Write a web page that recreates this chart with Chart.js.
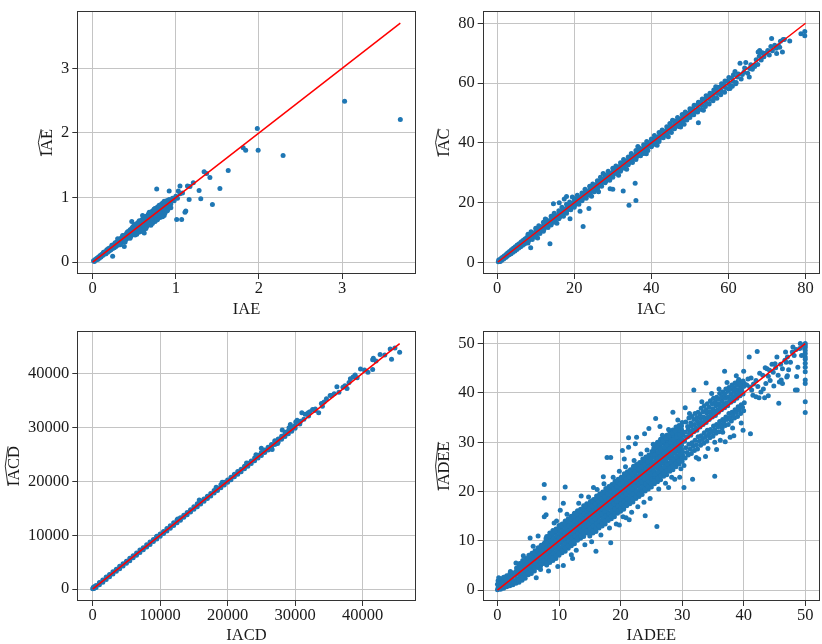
<!DOCTYPE html>
<html>
<head>
<meta charset="utf-8">
<script src="https://cdn.jsdelivr.net/npm/chart.js@4.4.0/dist/chart.umd.min.js"></script>
<style>
  html, body { margin: 0; padding: 0; background: #fff; overflow: hidden; }
  #fig { position: relative; width: 822px; height: 644px; }
  #fig canvas { position: absolute; }
</style>
</head>
<body>
<div id="fig">
  <canvas id="c-iae" width="420" height="320" style="left:0px;top:0px"></canvas>
  <canvas id="c-iac" width="411" height="320" style="left:411px;top:0px"></canvas>
  <canvas id="c-iacd" width="420" height="324" style="left:0px;top:320px"></canvas>
  <canvas id="c-iadee" width="411" height="324" style="left:411px;top:320px"></canvas>
</div>
<script>
// ---- data (true value, estimated value) ----
const iaeTicks = [0, 1, 2, 3];
const iacTicks = [0, 20, 40, 60, 80];
const iacdTicks = [0, 10000, 20000, 30000, 40000];
const iadeeTicks = [0, 10, 20, 30, 40, 50];

const axisLabels = ['IAE', 'IAC', 'IACD', 'IADEE'];

const iaePoints = [
  [0.01,0.02],[0.02,0.01],[0.03,0.04],[0.04,0.03],[0.05,0.06],[0.06,0.04],[0.07,0.08],[0.08,0.06],
  [0.09,0.10],[0.10,0.08],[0.11,0.12],[0.12,0.10],[0.13,0.15],[0.14,0.12],[0.15,0.16],[0.16,0.13],
  [0.17,0.19],[0.18,0.15],[0.19,0.21],[0.20,0.17],[0.21,0.22],[0.22,0.19],[0.23,0.26],[0.24,0.21],
  [0.25,0.27],[0.26,0.22],[0.27,0.30],[0.28,0.24],[0.29,0.31],[0.30,0.26],[0.31,0.34],[0.32,0.28],
  [0.33,0.36],[0.34,0.30],[0.35,0.38],[0.36,0.31],[0.37,0.40],[0.38,0.33],[0.39,0.42],[0.40,0.35],
  [0.41,0.45],[0.42,0.37],[0.43,0.47],[0.44,0.38],[0.45,0.50],[0.46,0.40],[0.47,0.52],[0.48,0.43],
  [0.49,0.55],[0.50,0.44],[0.51,0.56],[0.52,0.46],[0.53,0.58],[0.54,0.47],[0.55,0.60],[0.56,0.49],
  [0.57,0.63],[0.58,0.50],[0.59,0.65],[0.60,0.53],[0.61,0.67],[0.62,0.54],[0.63,0.69],[0.64,0.56],
  [0.65,0.71],[0.66,0.57],[0.67,0.74],[0.68,0.59],[0.69,0.76],[0.70,0.61],[0.71,0.78],[0.72,0.63],
  [0.73,0.80],[0.74,0.64],[0.75,0.83],[0.76,0.66],[0.77,0.84],[0.78,0.69],[0.79,0.86],[0.80,0.70],
  [0.81,0.88],[0.82,0.73],[0.83,0.90],[0.84,0.76],[0.85,0.92],[0.86,0.78],[0.87,0.93],[0.88,0.82],
  [0.89,0.95],[0.90,0.84],[0.92,0.97],[0.94,0.90],[0.96,0.99],[0.98,0.95],[1.00,1.02],[1.02,0.99],
  [1.05,1.06],[1.08,1.07],
  [0.30,0.30],[0.35,0.34],[0.40,0.40],[0.45,0.44],[0.50,0.50],[0.55,0.54],[0.60,0.60],[0.65,0.64],
  [0.70,0.70],[0.75,0.74],[0.80,0.80],[0.85,0.84],[0.47,0.47],[0.52,0.52],[0.57,0.56],[0.62,0.62],
  [0.67,0.67],[0.72,0.72],[0.77,0.77],[0.82,0.82],[0.42,0.42],[0.37,0.36],[0.58,0.58],[0.63,0.60],
  [0.68,0.66],[0.73,0.70],[0.78,0.75],[0.83,0.80],[0.53,0.50],[0.48,0.46],[0.44,0.41],[0.66,0.62],
  [0.71,0.66],[0.76,0.71],[0.81,0.76],[0.86,0.82],[0.90,0.88],[0.93,0.92],[0.60,0.57],[0.64,0.67],
  [0.69,0.72],[0.74,0.78],[0.79,0.82],[0.84,0.87],[0.88,0.90],[0.56,0.58],[0.51,0.53],[0.46,0.48],
  [0.41,0.43],[0.36,0.37],[0.72,0.60],[0.78,0.66],[0.70,0.57],[0.64,0.52],[0.82,0.70],[0.86,0.72],
  [0.90,0.80],[0.55,0.46],[0.60,0.50],
  [0.30,0.36],[0.33,0.27],[0.36,0.41],[0.39,0.31],[0.42,0.47],[0.45,0.37],[0.48,0.54],[0.51,0.42],
  [0.54,0.61],[0.57,0.47],[0.60,0.66],[0.63,0.52],[0.66,0.72],[0.69,0.58],[0.72,0.79],[0.75,0.63],
  [0.78,0.85],[0.81,0.69],[0.84,0.91],[0.87,0.76],[0.90,0.95],[0.93,0.84],[0.50,0.58],[0.56,0.64],
  [0.62,0.70],[0.68,0.77],[0.74,0.82],[0.80,0.88],[0.86,0.94],[0.53,0.43],[0.59,0.49],[0.65,0.55],
  [0.71,0.60],[0.77,0.65],[0.83,0.72],[0.89,0.79],
  [3.03,2.49],[3.70,2.21],[1.98,2.07],[1.99,1.73],[1.81,1.77],[1.84,1.73],[2.29,1.65],[1.63,1.42],
  [1.34,1.40],[1.37,1.37],[1.41,1.31],[1.53,1.14],[1.28,1.11],[1.30,0.98],[1.16,0.97],[1.44,0.89],
  [1.12,0.79],[1.01,0.66],[1.07,0.66],[0.94,0.84],[0.77,1.13],[0.92,1.10],[1.05,1.18],[1.14,1.18],
  [1.17,1.17],[1.21,1.23],[1.03,1.10],[0.84,0.70],[0.62,0.45],[0.38,0.24],[0.24,0.09],[0.47,0.63],
  [0.60,0.72],[1.11,0.77]
];

const iacPoints = [
  [0.3,0.3],[0.4,0.9],[0.8,0.4],[0.9,1.3],[1.2,0.8],[1.3,1.7],[1.7,1.2],[1.8,2.2],[2.2,1.7],[2.3,2.7],
  [2.6,2.1],[2.7,3.2],[3.1,2.6],[3.2,3.7],[3.6,3.0],[3.7,4.3],[4.1,3.5],[4.2,4.8],[4.6,3.9],[4.7,5.3],
  [5.1,4.4],[5.2,5.9],[5.6,4.9],[5.7,6.3],[6.1,5.3],[6.2,6.9],[6.6,5.8],[6.7,7.4],[7.1,6.2],[7.2,7.9],
  [7.6,6.7],[7.7,8.4],[0.6,0.6],[1.5,1.5],[2.5,2.4],[3.4,3.4],[4.4,4.3],[5.4,5.3],[6.4,6.3],[7.4,7.3],
  [8.0,6.6],[8.2,7.4],[7.8,8.0],[8.1,8.7],[8.0,9.5],
  [9.1,7.7],[8.9,8.2],[9.2,9.1],[9.0,9.7],[8.8,10.3],
  [10.0,8.6],[10.2,9.4],[9.8,10.0],[10.1,10.7],[10.0,11.5],
  [11.1,9.7],[10.9,10.2],[11.0,11.1],[11.2,11.7],[10.8,12.3],
  [12.0,10.5],[12.2,11.3],[11.9,12.1],[12.1,12.6],[12.0,13.5],
  [13.2,11.7],[12.9,12.3],[13.0,12.9],[13.1,13.8],[12.8,14.3],
  [14.0,12.6],[14.1,13.2],[13.8,14.1],[14.2,14.8],[14.0,15.5],
  [15.1,13.5],[14.9,14.4],[15.2,15.0],[15.0,15.6],[14.8,16.5],
  [16.0,14.7],[16.2,15.2],[15.9,16.0],[16.1,16.8],[16.0,17.3],
  [17.2,15.5],[16.9,16.3],[17.0,17.1],[17.1,17.7],[16.8,18.5],
  [18.0,16.5],[18.1,17.4],[17.8,18.0],[18.2,18.6],[18.0,19.5],
  [19.1,17.7],[18.9,18.2],[19.2,19.0],[19.0,19.8],[18.8,20.3],
  [20.0,18.5],[20.2,19.3],[19.9,20.1],[20.1,20.6],[20.0,21.4],
  [21.2,19.5],[20.9,20.4],[21.0,21.0],[21.1,21.6],[20.8,22.5],
  [22.0,20.7],[22.1,21.2],[21.8,21.9],[22.2,22.8],[22.0,23.3],
  [23.1,21.5],[22.9,22.3],[23.2,23.1],[23.0,23.7],[22.8,24.5],
  [24.0,22.5],[24.2,23.4],[23.9,24.0],[24.1,24.6],[24.0,25.5],
  [25.2,23.7],[24.9,24.2],[25.0,24.9],[25.1,25.8],[24.8,26.3],
  [26.0,24.5],[26.1,25.3],[25.8,26.1],[26.2,26.6],[26.0,27.4],
  [27.1,25.5],[26.9,26.4],[27.2,27.0],[27.0,27.6],[26.8,28.5],
  [28.0,26.7],[28.2,27.2],[27.9,27.9],[28.1,28.8],[28.0,29.3],
  [29.2,27.5],[28.9,28.3],[29.0,29.1],[29.1,29.7],[28.8,30.5],
  [30.0,28.5],[30.1,29.4],[29.8,30.0],[30.2,30.6],[30.0,31.5],
  [31.1,29.7],[30.9,30.2],[31.2,30.9],[31.0,31.8],[30.8,32.3],
  [32.0,30.5],[32.2,31.3],[31.9,32.1],[32.1,32.6],[32.0,33.4],
  [33.2,31.5],[32.9,32.4],[33.0,33.0],[33.1,33.6],[32.8,34.5],
  [34.0,32.7],[34.1,33.2],[33.8,33.9],[34.2,34.8],[34.0,35.3],
  [35.1,33.5],[34.9,34.3],[35.2,35.1],[35.0,35.7],[34.8,36.5],
  [36.0,34.5],[36.2,35.4],[35.9,36.0],[36.1,36.6],[36.0,37.5],
  [37.2,35.7],[36.9,36.2],[37.0,36.9],[37.1,37.8],[36.8,38.3],
  [38.0,36.5],[38.1,37.3],[37.8,38.1],[38.2,38.6],[38.0,39.4],
  [39.1,37.5],[38.9,38.4],[39.2,39.0],[39.0,39.6],[38.8,40.5],
  [40.0,38.7],[40.2,39.2],[39.9,39.9],[40.1,40.8],[40.0,41.3],
  [41.2,39.5],[40.9,40.3],[41.0,41.1],[41.1,41.7],[40.8,42.5],
  [42.0,40.5],[42.1,41.4],[41.8,42.0],[42.2,42.6],[42.0,43.5],
  [43.1,41.7],[42.9,42.2],[43.2,42.9],[43.0,43.8],[42.8,44.3],
  [44.0,42.5],[44.2,43.3],[43.9,44.1],[44.1,44.6],[44.0,45.4],
  [45.2,43.5],[44.9,44.4],[45.0,45.0],[45.1,45.6],[44.8,46.5],
  [46.0,44.7],[46.1,45.2],[45.8,45.9],[46.2,46.8],[46.0,47.3],
  [47.1,45.5],[46.9,46.3],[47.2,47.1],[47.0,47.7],[46.8,48.5],
  [48.0,46.5],[48.2,47.4],[47.9,48.0],[48.1,48.6],[48.0,49.5],
  [49.2,47.7],[48.9,48.2],[49.0,48.9],[49.1,49.8],[48.8,50.3],
  [50.0,48.5],[50.1,49.3],[49.8,50.1],[50.2,50.6],[50.0,51.4],
  [51.0,49.4],[51.2,50.6],[50.8,51.5],[51.1,52.6],[52.0,50.3],[52.1,51.5],[51.9,52.6],[52.2,53.6],
  [53.0,51.2],[53.1,52.6],[52.9,53.5],[53.2,54.7],[54.0,52.2],[54.1,53.5],[53.9,54.6],[54.2,55.8],
  [55.0,53.0],[55.1,54.5],[54.9,55.6],[55.2,56.6],[56.0,54.1],[56.1,55.4],[55.9,56.5],[56.2,57.7],
  [57.0,54.9],[57.1,56.5],[56.9,57.6],[57.2,58.6],[58.0,56.1],[58.1,57.4],[57.9,58.6],[58.2,59.8],
  [59.0,56.9],[59.2,58.5],[58.8,59.4],[59.1,60.7],[60.0,58.1],[60.2,59.6],[59.8,60.6],[60.1,61.9],
  [61.0,58.9],[61.2,60.6],[60.8,61.7],[61.3,62.8],[62.0,60.2],[62.3,62.0],[62.6,63.0],
  [63.3,61.4],[63.6,62.9],[64.0,63.6],[64.2,65.0],[65.0,63.3],[65.5,64.9],[65.8,66.1],[66.2,64.6],
  [66.8,66.0],[67.2,67.8],[67.6,66.2],[68.0,69.0],[68.5,67.7],[68.8,70.1],[69.2,68.8],[69.6,70.0],
  [70.2,70.9],[70.6,69.4],[71.0,72.2],[71.4,70.8],[72.0,72.6],[72.4,71.6],[73.0,72.5],[73.5,74.0],
  [74.2,74.6],
  [78.8,76.5],[79.8,77.2],[79.8,75.8],[74.5,74.6],[74.0,70.4],[72.5,69.9],[71.2,74.9],[68.1,70.9],
  [67.7,70.4],[66.8,65.5],[65.4,62.0],[64.5,66.9],[63.0,66.6],[61.7,63.9],[60.4,58.2],[61.9,59.8],
  [73.3,72.0],[75.9,74.1],[52.2,46.7],[13.7,6.3],[22.3,12.1],[34.2,19.2],[36.0,20.8],[35.8,26.5],
  [32.7,23.9],[29.3,24.7],[30.0,24.5],[23.8,18.1],[21.5,17.2],[18.9,14.7],[14.6,19.7],[16.1,20.0],
  [18.0,22.1],[17.4,21.3],[8.7,5.0],
  [12.5,14.6],[15.5,13.2],[19.5,21.9],[24.5,22.2],[27.5,29.8],[31.5,29.2],[36.5,38.8],[41.5,39.2],
  [45.5,47.6],[48.5,46.2],[10.5,8.2],[26.3,23.7],[33.6,31.2],[38.7,36.4],[44.4,42.1],[47.6,45.3],
  [53.5,50.9],[56.7,58.8]
];

const iacdPoints = [
  [0,50],[100,350],[200,120],[300,500],
  [500,280],[500,690],[1000,820],[1000,1230],[1500,1290],[1500,1710],[2000,1780],[2000,2240],
  [2500,2310],[2500,2690],[3000,2790],[3000,3220],[3500,3320],[3500,3680],[4000,3780],[4000,4230],
  [4500,4290],[4500,4710],[5000,4820],[5000,5190],[5500,5280],[5500,5730],[6000,5810],[6000,6190],
  [6500,6290],[6500,6720],[7000,6780],[7000,7240],[7500,7310],[7500,7690],[8000,7790],[8000,8220],
  [8500,8280],[8500,8730],[9000,8810],[9000,9190],[9500,9290],[9500,9720],[10000,9780],[10000,10240],
  [10500,10310],[10500,10690],[11000,10790],[11000,11220],[11500,11280],[11500,11730],[12000,11810],[12000,12290],
  [12500,12290],[12500,12820],[13000,12780],[13000,13240],[13500,13310],[13500,13690],[14000,13790],[14000,14220],
  [14500,14280],[14500,14730],[15000,14810],[15000,15290],[15500,15290],[15500,15820],[16000,15780],[16000,16340],
  [16500,16310],[16500,16690],[17000,16790],[17000,17220],[17500,17280],[17500,17730],[18000,17810],[18000,18290],
  [18500,18290],[18500,18720],[19000,18780],[19000,19340],[19500,19310],[19500,19790],[20000,19790],[20000,20220],
  [20500,20280],[20500,20730],[21000,20810],[21000,21290],[21500,21290],[21500,21820],[22000,21780],[22000,22240],
  [22500,22310],[22500,22790],[23000,22790],[23000,23320],[23500,23280],[23500,23730],[24000,23810],[24000,24290],
  [24500,24290],[24500,24820],[25000,24780],[25000,25340],[25500,25310],[25500,25790],[26000,25790],[26000,26320],
  [26500,26280],[26500,26830],[27000,26810],[27000,27290],[27500,27290],[27500,27820],[28000,27780],[28000,28340],
  [28500,28310],[28500,28790],[29000,28790],[29000,29320],[29500,29280],[29500,29830],[30000,29810],[30000,30290],
  [15800,16500],[12600,13000],[26600,25900],[25000,26100],[19200,19800],[22800,23400],[24200,24900],[18300,18900],
  [9500,9800],[27400,27000],
  [30300,31300],[30800,31100],[30100,31000],[31000,32700],[31500,32400],[31950,32700],[32200,32900],[32600,33300],
  [32950,33100],[33500,32700],[34050,33900],[34300,34700],[34650,35300],[35200,35900],[35400,35900],[36200,37500],
  [36500,36500],[37100,37400],[37700,37200],[38000,38300],[38200,39000],[38600,39300],[38900,39700],[39700,40800],
  [40800,40200],[41500,40700],[41500,42500],[41600,42800],[42600,43500],[44100,44500],[44300,42600],[44800,44700],
  [45500,43900],[29100,29900],[29600,30000],[29300,30500],[28600,29100],[28100,29500],[26500,26000],[27000,27500],
  [30700,30600],[31300,31500],[32000,32100],[33000,33400],[33900,34400],[35800,36200],[37400,37700],[39200,39200],
  [40300,40600],[42000,42300],[43300,43400]
];

const iadeePoints = [
  // x 0 - 3
  [0.0,0.1],[0.1,0.5],[0.0,1.2],[0.1,1.9],[0.2,2.5],[0.5,0.2],[0.6,0.9],[0.4,1.6],[0.6,2.3],
  [1.0,0.4],[1.1,1.1],[0.9,1.8],[1.0,2.6],[1.5,0.7],[1.6,1.4],[1.4,2.1],[1.5,2.9],
  [2.0,0.9],[2.1,1.7],[1.9,2.5],[2.0,3.3],[2.1,3.8],[2.5,1.1],[2.6,1.9],[2.4,2.7],[2.5,3.5],
  [3.0,1.4],[3.1,2.2],[2.9,3.0],[3.0,3.8],[3.1,4.5],
  // x 3.5 - 7.5
  [3.5,1.6],[3.6,2.5],[3.4,3.5],[3.5,4.6],[3.6,5.4],[4.0,2.0],[4.1,3.1],[3.9,4.0],[4.0,4.9],[4.1,6.0],
  [4.5,2.4],[4.6,3.5],[4.4,4.6],[4.5,5.5],[4.6,6.4],[5.0,3.1],[5.1,4.0],[4.9,4.9],[5.0,6.0],[5.1,7.1],
  [5.5,3.4],[5.6,4.5],[5.4,5.6],[5.5,6.4],[5.6,7.5],[6.0,3.9],[6.1,5.0],[5.9,6.0],[6.0,7.1],[6.1,8.0],
  [6.5,4.6],[6.6,5.4],[6.4,6.5],[6.5,7.6],[6.6,8.6],[7.0,4.9],[7.1,6.1],[6.9,7.0],[7.0,8.0],[7.1,9.1],
  [7.0,4.2],[7.5,5.4],[7.6,6.5],[7.4,7.4],[7.5,8.6],[7.6,9.5],
  [3.5,2.0],[3.6,3.0],[3.4,4.0],[3.5,5.0],[4.0,2.5],[4.1,3.5],[3.9,4.5],[4.0,5.5],
  [4.5,3.0],[4.6,4.0],[4.4,5.0],[4.5,6.0],[5.0,3.5],[5.1,4.5],[4.9,5.5],[5.0,6.5],
  [5.5,4.0],[5.6,5.0],[5.4,6.0],[5.5,7.0],[6.0,4.5],[6.1,5.5],[5.9,6.5],[6.0,7.5],
  [6.5,5.0],[6.6,6.0],[6.4,7.0],[6.5,8.0],[7.0,5.5],[7.1,6.5],[6.9,7.5],[7.0,8.5],
  [7.5,6.0],[7.6,7.0],[7.4,8.0],[7.5,9.0],
  // x 8 - 14.5
  [8.0,5.1],[8.1,6.0],[7.9,7.1],[8.0,8.0],[8.1,9.0],[7.9,10.1],[8.0,10.9],
  [8.5,5.6],[8.6,6.4],[8.4,7.5],[8.5,8.6],[8.6,9.4],[8.4,10.5],[8.5,11.6],
  [9.0,6.0],[9.1,7.1],[8.9,8.0],[9.0,9.0],[9.1,10.1],[8.9,11.0],[9.0,12.1],
  [9.5,6.4],[9.6,7.5],[9.4,8.6],[9.5,9.4],[9.6,10.5],[9.4,11.6],[9.5,12.4],
  [10.0,7.1],[10.1,8.0],[9.9,8.9],[10.0,10.1],[10.1,11.0],[9.9,12.0],[10.0,13.1],
  [10.5,7.6],[10.6,8.5],[10.4,9.6],[10.5,10.4],[10.6,11.5],[10.4,12.6],[10.5,13.4],
  [11.0,7.9],[11.1,9.0],[10.9,10.1],[11.0,11.0],[11.1,11.9],[10.9,13.1],[11.0,14.0],
  [11.5,8.5],[11.6,9.4],[11.4,10.5],[11.5,11.6],[11.6,12.5],[11.4,13.4],[11.5,14.5],
  [12.0,9.0],[12.1,10.1],[11.9,11.0],[12.0,11.9],[12.1,13.0],[11.9,14.1],[12.0,15.0],
  [12.5,9.4],[12.6,10.5],[12.4,11.6],[12.5,12.5],[12.6,13.4],[12.4,14.5],[12.5,15.6],
  [13.0,10.1],[13.1,11.0],[12.9,11.9],[13.0,13.1],[13.1,14.0],[12.9,15.0],[13.0,16.1],
  [13.5,10.5],[13.6,11.6],[13.4,12.5],[13.5,13.4],[13.6,14.6],[13.4,15.5],[13.5,16.4],
  [14.0,10.9],[14.1,12.0],[13.9,13.1],[14.0,14.0],[14.1,14.9],[13.9,16.0],[14.0,17.1],
  [14.5,11.6],[14.6,12.5],[14.4,13.4],[14.5,14.6],[14.6,15.5],[14.4,16.4],[14.5,17.5],
  [8.0,5.5],[8.1,6.5],[7.9,7.5],[8.0,8.5],[8.1,9.5],[7.9,10.5],
  [8.5,6.0],[8.6,7.0],[8.4,8.0],[8.5,9.0],[8.6,10.0],[8.4,11.0],
  [9.0,6.5],[9.1,7.5],[8.9,8.5],[9.0,9.5],[9.1,10.5],[8.9,11.5],
  [9.5,7.0],[9.6,8.0],[9.4,9.0],[9.5,10.0],[9.6,11.0],[9.4,12.0],
  [10.0,7.5],[10.1,8.5],[9.9,9.5],[10.0,10.5],[10.1,11.5],[9.9,12.5],
  [10.5,8.0],[10.6,9.0],[10.4,10.0],[10.5,11.0],[10.6,12.0],[10.4,13.0],
  [11.0,8.5],[11.1,9.5],[10.9,10.5],[11.0,11.5],[11.1,12.5],[10.9,13.5],
  [11.5,9.0],[11.6,10.0],[11.4,11.0],[11.5,12.0],[11.6,13.0],[11.4,14.0],
  [12.0,9.5],[12.1,10.5],[11.9,11.5],[12.0,12.5],[12.1,13.5],[11.9,14.5],
  [12.5,10.0],[12.6,11.0],[12.4,12.0],[12.5,13.0],[12.6,14.0],[12.4,15.0],
  [13.0,10.5],[13.1,11.5],[12.9,12.5],[13.0,13.5],[13.1,14.5],[12.9,15.5],
  [13.5,11.0],[13.6,12.0],[13.4,13.0],[13.5,14.0],[13.6,15.0],[13.4,16.0],
  [14.0,11.5],[14.1,12.5],[13.9,13.5],[14.0,14.5],[14.1,15.5],[13.9,16.5],
  [14.5,12.0],[14.6,13.0],[14.4,14.0],[14.5,15.0],[14.6,16.0],[14.4,17.0],
  // x 15 - 25
  [15.0,11.0],[15.1,12.1],[14.9,13.0],[15.0,13.9],[15.1,15.1],[14.9,16.0],[15.0,16.9],[15.1,18.0],
  [15.5,11.6],[15.6,12.4],[15.4,13.5],[15.5,14.6],[15.6,15.4],[15.4,16.5],[15.5,17.6],[15.6,18.4],
  [16.0,11.9],[16.1,13.1],[15.9,14.0],[16.0,14.9],[16.1,16.1],[15.9,17.0],[16.0,17.9],[16.1,19.1],
  [16.5,12.6],[16.6,13.5],[16.4,14.4],[16.5,15.6],[16.6,16.5],[16.4,17.4],[16.5,18.6],[16.6,19.5],
  [17.0,13.0],[17.1,13.9],[16.9,15.1],[17.0,16.0],[17.1,16.9],[16.9,18.1],[17.0,19.0],[17.1,19.9],
  [17.5,13.4],[17.6,14.6],[17.4,15.5],[17.5,16.4],[17.6,17.6],[17.4,18.5],[17.5,19.4],[17.6,20.6],
  [18.0,14.1],[18.1,15.0],[17.9,15.9],[18.0,17.1],[18.1,18.0],[17.9,18.9],[18.0,20.1],[18.1,21.0],
  [18.5,14.5],[18.6,15.4],[18.4,16.6],[18.5,17.5],[18.6,18.4],[18.4,19.6],[18.5,20.5],[18.6,21.4],
  [19.0,14.9],[19.1,16.1],[18.9,17.0],[19.0,17.9],[19.1,19.1],[18.9,20.0],[19.0,20.9],[19.1,22.1],
  [19.5,15.6],[19.6,16.5],[19.4,17.4],[19.5,18.6],[19.6,19.5],[19.4,20.4],[19.5,21.6],[19.6,22.5],
  [20.0,16.0],[20.1,16.9],[19.9,18.1],[20.0,19.0],[20.1,19.9],[19.9,21.1],[20.0,22.0],[20.1,22.9],
  [20.5,16.4],[20.6,17.6],[20.4,18.5],[20.5,19.4],[20.6,20.6],[20.4,21.5],[20.5,22.4],[20.6,23.6],
  [21.0,17.1],[21.1,18.0],[20.9,18.9],[21.0,20.1],[21.1,21.0],[20.9,21.9],[21.0,23.1],[21.1,24.0],
  [21.5,17.5],[21.6,18.4],[21.4,19.6],[21.5,20.5],[21.6,21.4],[21.4,22.6],[21.5,23.5],[21.6,24.4],
  [22.0,17.9],[22.1,19.1],[21.9,20.0],[22.0,20.9],[22.1,22.1],[21.9,23.0],[22.0,23.9],[22.1,25.1],
  [22.5,18.6],[22.6,19.5],[22.4,20.4],[22.5,21.6],[22.6,22.5],[22.4,23.4],[22.5,24.6],[22.6,25.5],
  [23.0,19.0],[23.1,19.9],[22.9,21.1],[23.0,22.0],[23.1,22.9],[22.9,24.1],[23.0,25.0],[23.1,25.9],
  [23.5,19.4],[23.6,20.6],[23.4,21.5],[23.5,22.4],[23.6,23.6],[23.4,24.5],[23.5,25.4],[23.6,26.6],
  [24.0,20.1],[24.1,21.0],[23.9,21.9],[24.0,23.1],[24.1,24.0],[23.9,24.9],[24.0,26.1],[24.1,27.0],
  [24.5,20.5],[24.6,21.4],[24.4,22.6],[24.5,23.5],[24.6,24.4],[24.4,25.6],[24.5,26.5],[24.6,27.4],
  [25.0,20.9],[25.1,22.1],[24.9,23.0],[25.0,23.9],[25.1,25.1],[24.9,26.0],[25.0,26.9],[25.1,28.1],
  [15.0,11.5],[15.1,12.5],[14.9,13.5],[15.0,14.5],[15.1,15.5],[14.9,16.5],[15.0,17.5],
  [15.5,12.0],[15.6,13.0],[15.4,14.0],[15.5,15.0],[15.6,16.0],[15.4,17.0],[15.5,18.0],
  [16.0,12.5],[16.1,13.5],[15.9,14.5],[16.0,15.5],[16.1,16.5],[15.9,17.5],[16.0,18.5],
  [16.5,13.0],[16.6,14.0],[16.4,15.0],[16.5,16.0],[16.6,17.0],[16.4,18.0],[16.5,19.0],
  [17.0,13.5],[17.1,14.5],[16.9,15.5],[17.0,16.5],[17.1,17.5],[16.9,18.5],[17.0,19.5],
  [17.5,14.0],[17.6,15.0],[17.4,16.0],[17.5,17.0],[17.6,18.0],[17.4,19.0],[17.5,20.0],
  [18.0,14.5],[18.1,15.5],[17.9,16.5],[18.0,17.5],[18.1,18.5],[17.9,19.5],[18.0,20.5],
  [18.5,15.0],[18.6,16.0],[18.4,17.0],[18.5,18.0],[18.6,19.0],[18.4,20.0],[18.5,21.0],
  [19.0,15.5],[19.1,16.5],[18.9,17.5],[19.0,18.5],[19.1,19.5],[18.9,20.5],[19.0,21.5],
  [19.5,16.0],[19.6,17.0],[19.4,18.0],[19.5,19.0],[19.6,20.0],[19.4,21.0],[19.5,22.0],
  [20.0,16.5],[20.1,17.5],[19.9,18.5],[20.0,19.5],[20.1,20.5],[19.9,21.5],[20.0,22.5],
  [20.5,17.0],[20.6,18.0],[20.4,19.0],[20.5,20.0],[20.6,21.0],[20.4,22.0],[20.5,23.0],
  [21.0,17.5],[21.1,18.5],[20.9,19.5],[21.0,20.5],[21.1,21.5],[20.9,22.5],[21.0,23.5],
  [21.5,18.0],[21.6,19.0],[21.4,20.0],[21.5,21.0],[21.6,22.0],[21.4,23.0],[21.5,24.0],
  [22.0,18.5],[22.1,19.5],[21.9,20.5],[22.0,21.5],[22.1,22.5],[21.9,23.5],[22.0,24.5],
  [22.5,19.0],[22.6,20.0],[22.4,21.0],[22.5,22.0],[22.6,23.0],[22.4,24.0],[22.5,25.0],
  [23.0,19.5],[23.1,20.5],[22.9,21.5],[23.0,22.5],[23.1,23.5],[22.9,24.5],[23.0,25.5],
  [23.5,20.0],[23.6,21.0],[23.4,22.0],[23.5,23.0],[23.6,24.0],[23.4,25.0],[23.5,26.0],
  [24.0,20.5],[24.1,21.5],[23.9,22.5],[24.0,23.5],[24.1,24.5],[23.9,25.5],[24.0,26.5],
  [24.5,21.0],[24.6,22.0],[24.4,23.0],[24.5,24.0],[24.6,25.0],[24.4,26.0],[24.5,27.0],
  [25.0,21.5],[25.1,22.5],[24.9,23.5],[25.0,24.5],[25.1,25.5],[24.9,26.5],[25.0,27.5],
  // x 25.5 - 30
  [25.5,21.6],[25.6,22.9],[25.4,24.1],[25.5,25.6],[25.6,26.9],[25.4,28.1],[25.5,29.4],
  [26.0,22.0],[26.1,23.2],[25.9,24.8],[26.0,26.1],[26.1,27.2],[25.9,28.8],[26.0,30.0],
  [26.5,22.4],[26.6,23.9],[26.4,25.1],[26.5,26.4],[26.6,27.9],[26.4,29.1],[26.5,30.6],
  [27.0,23.1],[27.1,24.2],[26.9,25.8],[27.0,27.0],[27.1,28.2],[26.9,29.8],[27.0,31.0],
  [27.5,23.4],[27.6,24.9],[27.4,26.1],[27.5,27.6],[27.6,28.9],[27.4,30.1],[27.5,31.4],
  [28.0,24.1],[28.1,25.2],[27.9,26.8],[28.0,28.0],[28.1,29.3],[27.9,30.7],[28.0,32.1],
  [28.5,24.4],[28.6,25.9],[28.4,27.1],[28.5,28.6],[28.6,29.8],[28.4,31.2],[28.5,32.5],
  [29.0,25.0],[29.1,26.3],[28.9,27.7],[29.0,29.0],[29.1,30.4],[28.9,31.6],[29.0,33.1],
  [29.5,25.6],[29.6,26.8],[29.4,28.2],[29.5,29.5],[29.6,30.8],[29.4,32.2],[29.5,33.4],
  [30.0,26.1],[30.1,27.3],[29.9,28.6],[30.0,30.1],[30.1,31.4],[29.9,32.6],[30.0,34.0],
  [25.8,23.5],[25.7,27.6],[26.3,24.1],[26.2,28.3],[26.8,24.6],[26.7,28.8],[27.3,25.1],[27.2,29.4],
  [27.8,25.6],[27.7,29.9],[28.3,26.2],[28.2,30.5],[28.8,26.6],[28.7,31.0],[29.3,27.1],[29.2,31.5],
  [29.8,27.7],[29.7,32.0],
  [25.5,22.2],[25.6,23.5],[25.4,24.9],[25.5,26.1],[25.6,27.5],[25.4,28.8],
  [26.0,22.7],[26.1,24.0],[25.9,25.4],[26.0,26.6],[26.1,28.0],[25.9,29.3],
  [26.5,23.2],[26.6,24.5],[26.4,25.9],[26.5,27.1],[26.6,28.5],[26.4,29.8],
  [27.0,23.7],[27.1,25.0],[26.9,26.4],[27.0,27.6],[27.1,29.0],[26.9,30.3],
  [27.5,24.2],[27.6,25.5],[27.4,26.9],[27.5,28.1],[27.6,29.5],[27.4,30.8],
  [28.0,24.7],[28.1,26.0],[27.9,27.4],[28.0,28.6],[28.1,30.0],[27.9,31.3],
  [28.5,25.2],[28.6,26.5],[28.4,27.9],[28.5,29.1],[28.6,30.5],[28.4,31.8],
  [29.0,25.7],[29.1,27.0],[28.9,28.4],[29.0,29.6],[29.1,31.0],[28.9,32.3],
  [29.5,26.2],[29.6,27.5],[29.4,28.9],[29.5,30.1],[29.6,31.5],[29.4,32.8],
  [30.0,26.7],[30.1,28.0],[29.9,29.4],[30.0,30.6],[30.1,32.0],[29.9,33.3],
  // x 30.5 - 40
  [30.5,26.8],[30.6,28.9],[30.4,30.2],[30.5,32.0],[30.6,34.1],[31.0,27.4],[31.1,29.6],[30.9,31.1],[31.0,32.6],[31.1,34.9],
  [31.5,27.7],[31.6,29.9],[31.4,31.4],[31.5,33.3],[31.6,35.2],[32.0,28.3],[32.1,30.4],[31.9,32.1],[32.0,33.6],[32.1,35.8],
  [32.5,28.6],[32.6,31.1],[32.4,32.4],[32.5,34.2],[32.6,36.1],[33.0,29.4],[33.1,31.3],[32.9,33.1],[33.0,34.8],[33.1,36.9],
  [33.5,29.8],[33.6,31.9],[33.4,33.6],[33.5,35.1],[33.6,37.4],[34.0,30.2],[34.1,32.4],[33.9,34.0],[34.0,35.9],[34.1,37.8],
  [34.5,30.9],[34.6,32.6],[34.4,34.6],[34.5,36.2],[34.6,38.4],[35.0,31.2],[35.1,33.3],[34.9,35.1],[35.0,36.8],[35.1,38.9],
  [35.5,31.8],[35.6,33.6],[35.4,35.4],[35.5,37.4],[35.6,39.1],[36.0,32.1],[36.1,34.2],[35.9,36.1],[36.0,37.8],[36.1,39.9],
  [36.5,32.9],[36.6,34.6],[36.4,36.6],[36.5,38.3],[36.6,40.2],[37.0,33.4],[37.1,35.1],[36.9,37.0],[37.0,38.9],[37.1,40.8],
  [37.5,33.6],[37.6,35.8],[37.4,37.4],[37.5,39.2],[37.6,41.1],[38.0,34.3],[38.1,36.1],[37.9,38.1],[38.0,39.8],[38.1,41.6],
  [38.5,34.9],[38.6,36.6],[38.4,38.4],[38.5,40.3],[38.6,42.0],[39.0,35.2],[39.1,37.2],[38.9,38.9],[39.0,40.6],[39.1,42.3],
  [39.5,35.8],[39.6,37.6],[39.4,39.4],[39.5,41.1],[39.6,42.1],[40.0,36.4],[40.1,38.0],[39.9,39.8],[40.0,41.3],[40.1,41.9],
  [30.8,27.9],[30.7,31.0],[30.9,33.2],[31.3,28.6],[31.2,31.8],[31.4,33.9],[31.8,29.2],[31.7,32.4],[31.9,34.6],
  [32.3,29.5],[32.2,32.9],[32.4,35.0],[32.8,30.2],[32.7,33.6],[32.9,35.6],[33.3,30.6],[33.2,34.0],[33.4,36.2],
  [33.8,31.1],[33.7,34.5],[33.9,36.6],[34.3,31.6],[34.2,35.1],[34.4,37.1],[34.8,32.0],[34.7,35.6],[34.9,37.8],
  [35.3,32.5],[35.2,36.1],[35.4,38.2],[35.8,33.1],[35.7,36.5],[35.9,38.7],[36.3,33.5],[36.2,37.1],[36.4,39.2],
  [36.8,34.0],[36.7,37.6],[36.9,39.7],[37.3,34.6],[37.2,38.0],[37.4,40.3],[37.8,35.0],[37.7,38.6],[37.9,40.7],
  [38.3,35.5],[38.2,39.1],[38.4,41.1],[38.8,36.0],[38.7,39.6],[38.9,41.5],[39.3,36.6],[39.2,40.0],[39.4,41.8],
  [39.8,37.1],[39.7,40.5],[39.9,42.4],
  // x 40 - 50
  [40.5,41.6],[41.0,41.2],[41.3,40.6],[41.6,41.8],[42.0,42.5],[42.3,41.3],[42.8,40.2],[43.2,40.8],
  [43.6,41.9],[44.0,43.4],[44.3,42.5],[44.8,44.2],[45.2,45.1],[45.6,43.6],[46.0,45.8],[46.3,44.9],
  [46.7,46.6],[47.1,47.3],[47.3,44.7],[47.6,46.2],[47.9,48.3],[48.2,47.6],[48.5,48.8],[48.8,45.2],
  [49.1,49.0],[49.4,47.6],[49.7,49.6],[45.4,47.3],[44.6,45.8],[43.8,44.9],[46.8,48.3],[48.0,49.3],
  [49.2,50.0],[47.0,43.2],[46.1,42.6],[44.9,41.4],[43.1,43.6],[42.6,44.0],[41.2,43.0],[40.7,42.8],
  [46.9,46.2],[45.1,45.9],
  [50.0,36.0],[50.0,38.2],[50.0,41.9],[50.0,42.6],[50.0,44.3],[50.0,45.2],[50.0,46.0],[50.0,46.8],
  [50.0,47.3],[50.0,48.0],[50.0,48.6],[50.0,49.2],[50.0,49.6],[50.0,50.0],[49.9,47.8],[49.9,49.0],
  // outliers
  [5.3,10.6],[7.6,21.4],[7.6,18.7],[7.9,15.3],[7.6,14.9],[11.0,20.9],[10.7,17.6],[10.7,5.0],
  [12.2,6.4],[16.0,7.9],[18.4,9.6],[25.9,12.9],[24.0,15.1],[20.9,14.7],[21.4,14.3],[19.8,13.2],
  [28.8,22.5],[30.3,20.8],[31.7,22.5],[35.3,23.1],[30.3,25.3],[32.7,26.6],[41.1,31.7],[39.9,32.4],
  [38.4,31.3],[37.8,31.0],[35.3,30.0],[36.6,32.0],[17.8,26.9],[18.4,26.9],[20.3,28.3],[21.3,30.9],
  [21.3,29.0],[22.6,31.0],[23.9,31.7],[25.7,34.8],[28.5,36.1],[30.5,37.0],[31.9,40.6],[33.9,42.0],
  [36.9,44.4],[36.0,40.8],[39.2,42.7],[40.0,44.4],[40.9,47.3],[42.2,48.4],[45.7,37.9],[42.5,39.0],
  [43.4,39.0],[44.0,39.4],[41.5,39.5],[42.0,39.2],[48.4,40.6],[48.7,40.6],[46.3,41.9],[45.8,42.2],
  [47.1,43.5],[48.6,43.3],[43.5,45.1],[44.2,44.6],
  [3.0,5.5],[4.2,7.0],[5.8,8.9],[6.3,2.5],[8.3,3.9],[9.2,13.6],[9.8,4.8],[11.3,15.4],
  [12.8,8.1],[13.2,17.6],[14.2,9.2],[14.8,18.9],[15.3,9.8],[16.2,20.4],[16.8,11.2],[17.3,21.6],
  [18.2,12.6],[18.8,22.9],[19.3,13.4],[19.8,24.1],[20.4,14.9],[20.8,25.0],[21.8,15.8],[22.2,26.3],
  [22.8,16.9],[23.3,27.6],[23.8,17.8],[24.3,28.4],[24.8,18.6],[25.3,29.6],[26.2,20.5],[26.8,31.4],
  [27.3,21.7],[27.8,32.6],[28.3,22.9],[29.3,34.5],[29.8,24.6],[31.2,35.8],[32.3,26.9],[33.2,38.2],
  [34.2,28.7],[34.8,39.9],[36.2,30.4],[37.3,42.1],[38.2,32.9],[38.8,43.5],[39.6,33.9],[13.6,19.1],
  [15.6,20.8],[9.6,14.0],[6.6,11.0],[10.2,16.2],[12.0,7.2],[22.4,29.7],[24.6,32.8],[26.4,33.2],
  [20.6,26.6],[17.2,23.0],[27.8,20.8],[29.6,22.9],[33.8,27.1],[35.6,28.5],[37.0,30.1]
];

// y = x reference segments
const iaeDiag = [0, 3.7];
const iacDiag = [0.2, 80];
const iacdDiag = [0, 45500];
const iadeeDiag = [0, 50];

// ---- styling ----
const FONT = "'Liberation Serif', 'DejaVu Serif', serif";
const TEXT = '#1a1a1a';
const SPINE = '#333333';
const GRID = '#c4c4c4';
const DOT = '#1f77b4';
const FONT_SIZE = 16.5;

const framePlugin = {
  id: 'frame',
  afterDatasetsDraw(chart) {
    const { ctx, chartArea: a } = chart;
    ctx.save();
    ctx.strokeStyle = SPINE;
    ctx.lineWidth = 1;
    const l = Math.round(a.left) + 0.5, t = Math.round(a.top) + 0.5;
    const r = Math.round(a.right) - 0.5, b = Math.round(a.bottom) - 0.5;
    ctx.strokeRect(l, t, r - l, b - t);
    ctx.restore();
  }
};

// wide hat over the rotated y-axis title
const hatPlugin = {
  id: 'hat',
  afterDraw(chart, args, opts) {
    const s = chart.scales.y;
    const a = chart.chartArea;
    const ctx = chart.ctx;
    const cx = s.left + FONT_SIZE / 2 + opts.titleTop;
    const cy = (a.top + a.bottom) / 2;
    ctx.save();
    ctx.font = FONT_SIZE + 'px ' + FONT;
    const w = ctx.measureText(opts.text).width;
    ctx.translate(cx, cy);
    ctx.rotate(-Math.PI / 2);
    ctx.beginPath();
    ctx.moveTo(-w * 0.49, -6.6);
    ctx.lineTo(0, -9.4);
    ctx.lineTo(w * 0.49, -6.6);
    ctx.lineWidth = 0.9;
    ctx.strokeStyle = TEXT;
    ctx.stroke();
    ctx.restore();
  }
};

function makeAxis(range, ticks, title, pads, fit) {
  return {
    type: 'linear',
    min: range[0],
    max: range[1],
    afterBuildTicks: s => { s.ticks = ticks.map(v => ({ value: v })); },
    afterFit: fit,
    ticks: {
      callback: v => String(v),
      font: { family: FONT, size: FONT_SIZE, lineHeight: 1 },
      color: TEXT,
      padding: pads.tick,
      maxRotation: 0,
      autoSkip: false
    },
    grid: { color: GRID, lineWidth: 1, drawTicks: true, tickLength: 5, tickColor: SPINE, tickWidth: 1 },
    border: { display: false },
    title: {
      display: true,
      text: title,
      color: TEXT,
      font: { family: FONT, size: FONT_SIZE, lineHeight: 1 },
      padding: pads.title
    }
  };
}

function makePanel(id, points, diag, xr, yr, ticks, label, box) {
  return new Chart(document.getElementById(id), {
    type: 'scatter',
    data: {
      datasets: [
        {
          data: [{ x: diag[0], y: diag[0] }, { x: diag[1], y: diag[1] }],
          showLine: true,
          borderColor: '#ff0000',
          borderWidth: 1.5,
          pointRadius: 0,
          order: 0
        },
        {
          data: points.map(p => ({ x: p[0], y: p[1] })),
          backgroundColor: DOT,
          borderWidth: 0,
          pointRadius: 2.5,
          order: 1
        }
      ]
    },
    options: {
      responsive: false,
      animation: false,
      events: [],
      layout: { autoPadding: false, padding: { left: 0, top: box.top, right: box.right, bottom: 0 } },
      plugins: {
        legend: { display: false },
        tooltip: { enabled: false },
        hat: { text: label, titleTop: box.yTitle }
      },
      scales: {
        x: makeAxis(xr, ticks, label, { tick: 1.5, title: { top: 0, bottom: box.xTitle } },
          s => { s.height = box.xh; }),
        y: makeAxis(yr, ticks, label, { tick: 3, title: { top: box.yTitle, bottom: 0 } },
          s => { s.width = box.yw; })
      }
    },
    plugins: [framePlugin, hatPlugin]
  });
}

makePanel('c-iae', iaePoints, iaeDiag, [-0.185, 3.885], [-0.185, 3.885], iaeTicks, axisLabels[0],
  { top: 1, right: 4.3, yw: 77.3, xh: 46, yTitle: 39.5, xTitle: 2.5 });
makePanel('c-iac', iacPoints, iacDiag, [-3.75, 83.75], [-3.8, 84], iacTicks, axisLabels[1],
  { top: 1, right: 2, yw: 71.7, xh: 46, yTitle: 25.7, xTitle: 2.5 });
makePanel('c-iacd', iacdPoints, iacdDiag, [-2280, 47880], [-2200, 47800], iacdTicks, axisLabels[2],
  { top: 9, right: 4.3, yw: 77.3, xh: 43, yTitle: 6.4, xTitle: -0.3 });
makePanel('c-iadee', iadeePoints, iadeeDiag, [-2.4, 52.4], [-2.2, 52.5], iadeeTicks, axisLabels[3],
  { top: 9, right: 2, yw: 71.7, xh: 43, yTitle: 25.7, xTitle: -0.3 });
</script>
</body>
</html>
